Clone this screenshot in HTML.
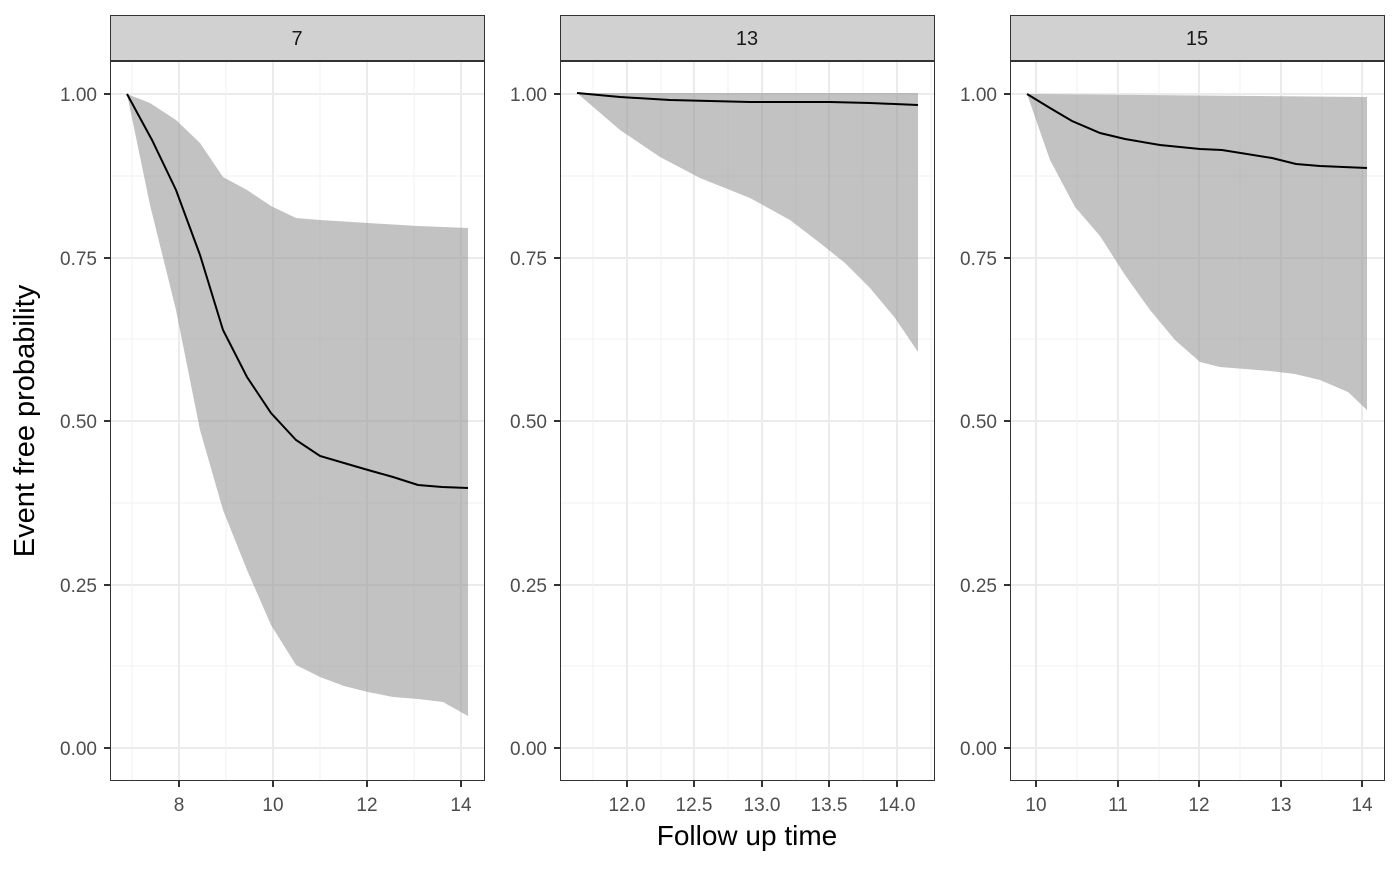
<!DOCTYPE html>
<html><head><style>body{margin:0;background:#fff}text{font-family:"Liberation Sans",sans-serif}</style></head><body>
<svg width="1400" height="866" xmlns="http://www.w3.org/2000/svg">
<defs>
<g id="hg">
<line x1="0" x2="375" y1="666" y2="666" stroke="#f0f0f0" stroke-width="1"/>
<line x1="0" x2="375" y1="503" y2="503" stroke="#f0f0f0" stroke-width="1"/>
<line x1="0" x2="375" y1="339" y2="339" stroke="#f0f0f0" stroke-width="1"/>
<line x1="0" x2="375" y1="176" y2="176" stroke="#f0f0f0" stroke-width="1"/>
<line x1="0" x2="375" y1="748" y2="748" stroke="#ebebeb" stroke-width="2"/>
<line x1="0" x2="375" y1="585" y2="585" stroke="#ebebeb" stroke-width="2"/>
<line x1="0" x2="375" y1="421" y2="421" stroke="#ebebeb" stroke-width="2"/>
<line x1="0" x2="375" y1="258" y2="258" stroke="#ebebeb" stroke-width="2"/>
<line x1="0" x2="375" y1="94" y2="94" stroke="#ebebeb" stroke-width="2"/>
</g>
<g id="yl" font-size="19" fill="#4d4d4d" text-anchor="end">
<text x="-13" y="755">0.00</text><text x="-13" y="592">0.25</text><text x="-13" y="428">0.50</text><text x="-13" y="265">0.75</text><text x="-13" y="101">1.00</text>
<g stroke="#333" stroke-width="2"><line x1="-6" x2="0" y1="748" y2="748"/><line x1="-6" x2="0" y1="585" y2="585"/><line x1="-6" x2="0" y1="421" y2="421"/><line x1="-6" x2="0" y1="258" y2="258"/><line x1="-6" x2="0" y1="94" y2="94"/></g>
</g>
</defs>
<!-- panel 1 -->
<use href="#hg" x="110"/>
<g stroke="#f0f0f0"><line x1="132" x2="132" y1="61" y2="781"/><line x1="226" x2="226" y1="61" y2="781"/><line x1="320" x2="320" y1="61" y2="781"/><line x1="414" x2="414" y1="61" y2="781"/></g>
<g stroke="#ebebeb" stroke-width="2"><line x1="179" x2="179" y1="61" y2="781"/><line x1="273" x2="273" y1="61" y2="781"/><line x1="367" x2="367" y1="61" y2="781"/><line x1="461" x2="461" y1="61" y2="781"/></g>
<polygon fill="#999" fill-opacity="0.6" points="127,94 150,103 176,120 200,143 223,177 247,190 271,206 296,218 320,220 368,223 418,226 468,228 468,716 443,702 418,699 393,697 368,692 344,686 320,677 296,665 271,625 247,570 223,510 200,430 176,310 150,205"/>
<polyline fill="none" stroke="#000" stroke-width="2" points="127,94 152,140 176,190 200,255 223,330 247,377 271,413 296,440 320,456 344,463 368,470 393,477 418,485 442,487 468,488"/>
<rect x="110.5" y="61.5" width="374" height="719" fill="none" stroke="#333"/>
<rect x="110.5" y="15.5" width="374" height="45" fill="#d1d1d1" stroke="#333"/>
<text x="297" y="45" font-size="20" fill="#1a1a1a" text-anchor="middle">7</text>
<use href="#yl" x="110"/>
<g font-size="19" fill="#4d4d4d" text-anchor="middle"><text x="179" y="811">8</text><text x="273" y="811">10</text><text x="367" y="811">12</text><text x="461" y="811">14</text></g>
<g stroke="#333" stroke-width="2"><line x1="179" x2="179" y1="781" y2="787"/><line x1="273" x2="273" y1="781" y2="787"/><line x1="367" x2="367" y1="781" y2="787"/><line x1="461" x2="461" y1="781" y2="787"/></g>
<!-- panel 2 -->
<use href="#hg" x="560"/>
<g stroke="#f0f0f0"><line x1="593" x2="593" y1="61" y2="781"/><line x1="661" x2="661" y1="61" y2="781"/><line x1="728" x2="728" y1="61" y2="781"/><line x1="796" x2="796" y1="61" y2="781"/><line x1="863" x2="863" y1="61" y2="781"/><line x1="931" x2="931" y1="61" y2="781"/></g>
<g stroke="#ebebeb" stroke-width="2"><line x1="627" x2="627" y1="61" y2="781"/><line x1="694" x2="694" y1="61" y2="781"/><line x1="762" x2="762" y1="61" y2="781"/><line x1="829" x2="829" y1="61" y2="781"/><line x1="897" x2="897" y1="61" y2="781"/></g>
<polygon fill="#999" fill-opacity="0.6" points="577,93 918,93 918,352 895,318 870,288 845,263 820,243 790,220 750,198 700,178 660,157 620,130"/>
<polyline fill="none" stroke="#000" stroke-width="2" points="577,93 620,97 670,100 750,102 830,102 870,103 918,105"/>
<rect x="560.5" y="61.5" width="374" height="719" fill="none" stroke="#333"/>
<rect x="560.5" y="15.5" width="374" height="45" fill="#d1d1d1" stroke="#333"/>
<text x="747" y="45" font-size="20" fill="#1a1a1a" text-anchor="middle">13</text>
<use href="#yl" x="560"/>
<g font-size="19" fill="#4d4d4d" text-anchor="middle"><text x="627" y="811">12.0</text><text x="694" y="811">12.5</text><text x="762" y="811">13.0</text><text x="829" y="811">13.5</text><text x="897" y="811">14.0</text></g>
<g stroke="#333" stroke-width="2"><line x1="627" x2="627" y1="781" y2="787"/><line x1="694" x2="694" y1="781" y2="787"/><line x1="762" x2="762" y1="781" y2="787"/><line x1="829" x2="829" y1="781" y2="787"/><line x1="897" x2="897" y1="781" y2="787"/></g>
<!-- panel 3 -->
<use href="#hg" x="1010"/>
<g stroke="#f0f0f0"><line x1="1077" x2="1077" y1="61" y2="781"/><line x1="1159" x2="1159" y1="61" y2="781"/><line x1="1240" x2="1240" y1="61" y2="781"/><line x1="1322" x2="1322" y1="61" y2="781"/></g>
<g stroke="#ebebeb" stroke-width="2"><line x1="1036" x2="1036" y1="61" y2="781"/><line x1="1118" x2="1118" y1="61" y2="781"/><line x1="1199" x2="1199" y1="61" y2="781"/><line x1="1281" x2="1281" y1="61" y2="781"/><line x1="1362" x2="1362" y1="61" y2="781"/></g>
<polygon fill="#999" fill-opacity="0.6" points="1027,94 1367,97 1367,410 1348,392 1320,380 1295,374 1270,371 1220,367 1200,362 1175,340 1150,310 1125,275 1100,236 1075,207 1050,160"/>
<polyline fill="none" stroke="#000" stroke-width="2" points="1027,94 1050,108 1072,121 1100,133 1125,139 1160,145 1200,149 1222,150 1272,158 1296,164 1320,166 1367,168"/>
<rect x="1010.5" y="61.5" width="374" height="719" fill="none" stroke="#333"/>
<rect x="1010.5" y="15.5" width="374" height="45" fill="#d1d1d1" stroke="#333"/>
<text x="1197" y="45" font-size="20" fill="#1a1a1a" text-anchor="middle">15</text>
<use href="#yl" x="1010"/>
<g font-size="19" fill="#4d4d4d" text-anchor="middle"><text x="1036" y="811">10</text><text x="1118" y="811">11</text><text x="1199" y="811">12</text><text x="1281" y="811">13</text><text x="1362" y="811">14</text></g>
<g stroke="#333" stroke-width="2"><line x1="1036" x2="1036" y1="781" y2="787"/><line x1="1118" x2="1118" y1="781" y2="787"/><line x1="1199" x2="1199" y1="781" y2="787"/><line x1="1281" x2="1281" y1="781" y2="787"/><line x1="1362" x2="1362" y1="781" y2="787"/></g>
<text x="747" y="845" font-size="28" fill="#000" text-anchor="middle">Follow up time</text>
<text transform="translate(34,421) rotate(-90)" font-size="29" fill="#000" text-anchor="middle">Event free probability</text>
</svg>
</body></html>
